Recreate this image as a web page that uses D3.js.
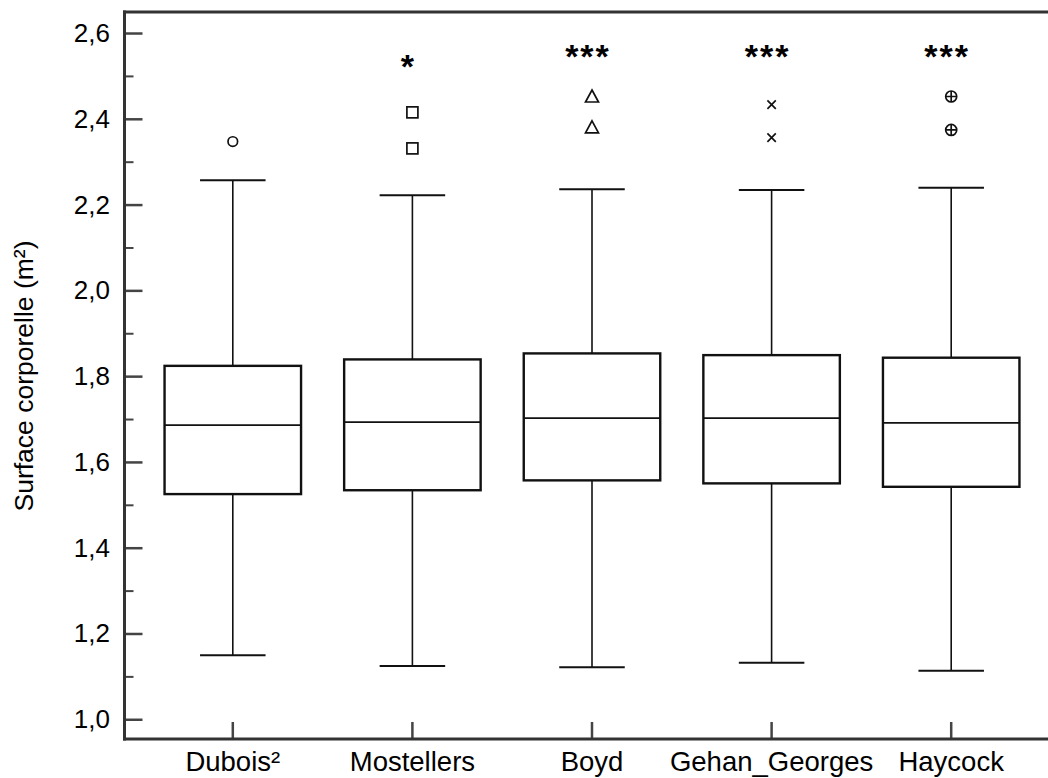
<!DOCTYPE html>
<html>
<head>
<meta charset="utf-8">
<script src="https://cdn.jsdelivr.net/npm/d3@7/dist/d3.min.js"></script>
<style>
  html, body { margin: 0; padding: 0; background: #fff; }
  svg { display: block; font-family: "Liberation Sans", Arial, sans-serif; }
</style>
</head>
<body>
<svg id="chart" width="1048" height="778"></svg>
<script>
// ---- data ----
const categories = ["Dubois²", "Mostellers", "Boyd", "Gehan_Georges", "Haycock"];
const whiskerHigh = [2.257, 2.222, 2.236, 2.234, 2.239];
const q3          = [1.824, 1.839, 1.853, 1.849, 1.843];
const medians     = [1.686, 1.693, 1.702, 1.702, 1.691];
const q1          = [1.525, 1.534, 1.557, 1.550, 1.542];
const whiskerLow  = [1.149, 1.124, 1.121, 1.132, 1.113];
const outliers    = [[2.347], [2.331, 2.415], [2.380, 2.452], [2.356, 2.433], [2.374, 2.452]];
const markerTypes = ["circle", "square", "triangle", "cross", "circleplus"];
const significance = ["", "*", "***", "***", "***"];
const yTicks = [1.0, 1.2, 1.4, 1.6, 1.8, 2.0, 2.2, 2.4, 2.6];
const yMinorTicks = [1.1, 1.3, 1.5, 1.7, 1.9, 2.1, 2.3, 2.5];
const yTitle = "Surface corporelle (m²)";

(function () {
// ---- layout ----
const W = 1048, H = 778;
const mLeft = 124.5, mTop = 12, mBottom = 739;
const svg = d3.select("#chart");

const y = d3.scaleLinear().domain([0.954, 2.649]).range([mBottom, mTop]);
const x = d3.scaleBand().domain(categories).range([143, 1041]).padding(0);
const cx = c => x(c) + x.bandwidth() / 2;
const boxW = x.bandwidth() * 0.76;
const capW = boxW * 0.48;

const axisColor = "#333";
const tickColor = "#444";

// y minor ticks
const yAxisMinor = d3.axisRight(y).tickValues(yMinorTicks).tickSize(9).tickFormat("");
const gMinor = svg.append("g").attr("transform", `translate(${mLeft},0)`).call(yAxisMinor);
gMinor.select(".domain").remove();
gMinor.selectAll("line").attr("stroke", tickColor).attr("stroke-width", 2);

// y major ticks (inward)
const yAxis = d3.axisRight(y).tickValues(yTicks).tickSize(18).tickFormat("");
const gY = svg.append("g").attr("transform", `translate(${mLeft},0)`).call(yAxis);
gY.select(".domain").remove();
gY.selectAll("line").attr("stroke", tickColor).attr("stroke-width", 2.5);

// y tick labels
const fmt = d => d3.format(".1f")(d).replace(".", ",");
svg.append("g").selectAll("text").data(yTicks).join("text")
  .attr("x", 110).attr("y", d => y(d))
  .attr("text-anchor", "end").attr("dominant-baseline", "central")
  .attr("font-size", 26).attr("fill", "#000")
  .text(fmt);

// x ticks (inward, upward)
const xAxis = d3.axisTop(x).tickSize(17).tickFormat("");
const gX = svg.append("g").attr("transform", `translate(0,${mBottom})`).call(xAxis);
gX.select(".domain").remove();
gX.selectAll("line").attr("stroke", tickColor).attr("stroke-width", 2.5);

// x labels
svg.append("g").selectAll("text").data(categories).join("text")
  .attr("x", d => cx(d)).attr("y", 771)
  .attr("text-anchor", "middle").attr("font-size", 27.5).attr("fill", "#000")
  .text(d => d);

// y title
svg.append("text")
  .attr("transform", `translate(33,${376}) rotate(-90)`)
  .attr("text-anchor", "middle").attr("font-size", 26.5).attr("fill", "#000")
  .text(yTitle);

// spines
svg.append("line").attr("x1", mLeft).attr("x2", mLeft).attr("y1", mTop - 1.5).attr("y2", mBottom + 1.5)
  .attr("stroke", axisColor).attr("stroke-width", 3);
svg.append("line").attr("x1", mLeft - 1.5).attr("x2", W).attr("y1", mTop).attr("y2", mTop)
  .attr("stroke", axisColor).attr("stroke-width", 3);
svg.append("line").attr("x1", mLeft - 1.5).attr("x2", W).attr("y1", mBottom).attr("y2", mBottom)
  .attr("stroke", axisColor).attr("stroke-width", 3);

// boxes
const data = categories.map((c, i) => ({
  c, hi: whiskerHigh[i], q3: q3[i], med: medians[i], q1: q1[i], lo: whiskerLow[i],
  out: outliers[i], mk: markerTypes[i], sig: significance[i]
}));

const g = svg.append("g");
const boxes = g.selectAll("g.box").data(data).join("g").attr("class", "box");

// whisker stems
boxes.append("line").attr("x1", d => cx(d.c)).attr("x2", d => cx(d.c))
  .attr("y1", d => y(d.hi)).attr("y2", d => y(d.q3)).attr("stroke", "#111").attr("stroke-width", 1.6);
boxes.append("line").attr("x1", d => cx(d.c)).attr("x2", d => cx(d.c))
  .attr("y1", d => y(d.q1)).attr("y2", d => y(d.lo)).attr("stroke", "#111").attr("stroke-width", 1.6);
// caps
boxes.append("line").attr("x1", d => cx(d.c) - capW / 2).attr("x2", d => cx(d.c) + capW / 2)
  .attr("y1", d => y(d.hi)).attr("y2", d => y(d.hi)).attr("stroke", "#111").attr("stroke-width", 2);
boxes.append("line").attr("x1", d => cx(d.c) - capW / 2).attr("x2", d => cx(d.c) + capW / 2)
  .attr("y1", d => y(d.lo)).attr("y2", d => y(d.lo)).attr("stroke", "#111").attr("stroke-width", 2);
// box
boxes.append("rect").attr("x", d => cx(d.c) - boxW / 2).attr("width", boxW)
  .attr("y", d => y(d.q3)).attr("height", d => y(d.q1) - y(d.q3))
  .attr("fill", "none").attr("stroke", "#111").attr("stroke-width", 2.4);
// median
boxes.append("line").attr("x1", d => cx(d.c) - boxW / 2).attr("x2", d => cx(d.c) + boxW / 2)
  .attr("y1", d => y(d.med)).attr("y2", d => y(d.med)).attr("stroke", "#111").attr("stroke-width", 1.8);

// outlier markers
function drawMarker(sel, type, px, py) {
  const st = { stroke: "#111", "stroke-width": 1.7, fill: "none" };
  let el;
  if (type === "circle") {
    el = sel.append("circle").attr("cx", px).attr("cy", py).attr("r", 4.8);
  } else if (type === "square") {
    el = sel.append("rect").attr("x", px - 5.5).attr("y", py - 5.5).attr("width", 11).attr("height", 11);
  } else if (type === "triangle") {
    el = sel.append("path").attr("d", `M${px},${py - 6.5}L${px + 6.5},${py + 5.5}L${px - 6.5},${py + 5.5}Z`);
  } else if (type === "cross") {
    el = sel.append("path").attr("d", `M${px - 4.2},${py - 4.2}L${px + 4.2},${py + 4.2}M${px - 4.2},${py + 4.2}L${px + 4.2},${py - 4.2}`);
  } else {
    const gg = sel.append("g");
    gg.append("circle").attr("cx", px).attr("cy", py).attr("r", 5.5);
    gg.append("path").attr("d", `M${px - 5.5},${py}L${px + 5.5},${py}M${px},${py - 5.5}L${px},${py + 5.5}`);
    el = gg;
  }
  Object.entries(st).forEach(([k, v]) => el.attr(k, v));
}
data.forEach(d => {
  d.out.forEach(v => drawMarker(g, d.mk, cx(d.c), y(v)));
});

// significance stars
g.selectAll("text.sig").data(data.filter(d => d.sig)).join("text")
  .attr("class", "sig")
  .attr("x", d => cx(d.c) - 4)
  .attr("y", d => d.sig.length === 1 ? 78 : 68)
  .attr("text-anchor", "middle").attr("font-size", 34).attr("font-weight", "bold")
  .attr("letter-spacing", 2).attr("fill", "#000")
  .text(d => d.sig);
})();
</script>
</body>
</html>
